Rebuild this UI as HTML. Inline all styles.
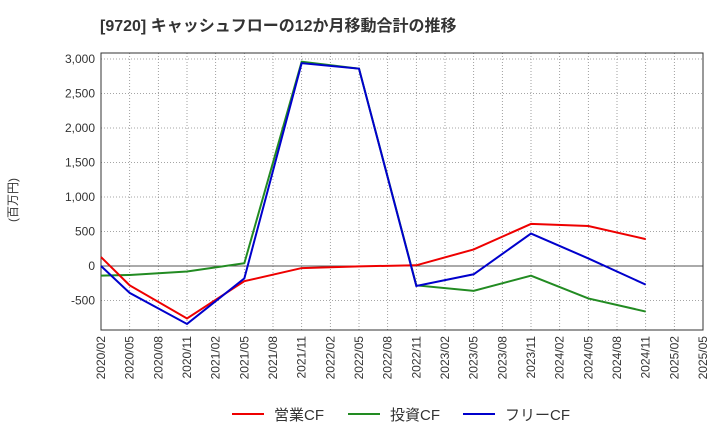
<!DOCTYPE html>
<html><head><meta charset="utf-8"><style>
body{margin:0;background:#fff;font-family:"Liberation Sans","Noto Sans CJK JP",sans-serif;}
</style></head><body>
<svg id="c" width="720" height="440" xmlns="http://www.w3.org/2000/svg">
<text x="100" y="31" font-size="16" font-weight="bold" fill="#333" font-family="Liberation Sans,Noto Sans CJK JP,sans-serif">[9720]  キャッシュフローの12か月移動合計の推移</text>
<text transform="translate(17,200) rotate(-90)" font-size="12" fill="#333" text-anchor="middle" font-family="Liberation Sans,Noto Sans CJK JP,sans-serif">(百万円)</text>
<g id="grid"></g><g id="axes"></g><g id="series"></g>
<g font-size="15" fill="#333" font-family="Liberation Sans,Noto Sans CJK JP,sans-serif">
<line x1="232" y1="414" x2="264" y2="414" stroke="#e00" stroke-width="2"/><text x="274" y="420">営業CF</text>
<line x1="348" y1="414" x2="380" y2="414" stroke="#228b22" stroke-width="2"/><text x="390" y="420">投資CF</text>
<line x1="463" y1="414" x2="495" y2="414" stroke="#00c" stroke-width="2"/><text x="505" y="420">フリーCF</text>
</g>
</svg>
<script>
const xLabels=["2020/02","2020/05","2020/08","2020/11","2021/02","2021/05","2021/08","2021/11","2022/02","2022/05","2022/08","2022/11","2023/02","2023/05","2023/08","2023/11","2024/02","2024/05","2024/08","2024/11","2025/02","2025/05"];
const yTicks=[-500,0,500,1000,1500,2000,2500,3000];
const pointIdx=[0,1,3,5,7,9,11,13,15,17,19];
const operatingCF=[130,-280,-760,-220,-30,-5,10,240,610,580,390];
const investingCF=[-140,-130,-80,40,2960,2860,-280,-360,-140,-470,-660];
const freeCF=[0,-390,-840,-180,2940,2860,-290,-120,470,110,-270];
const L=101,R=703,T=53,B=330;
const NS="http://www.w3.org/2000/svg";
const x=i=>L+i*(R-L)/(xLabels.length-1);
const y=v=>266-v*(207/3000);
function mk(t,a,p){const e=document.createElementNS(NS,t);for(const k in a)e.setAttribute(k,a[k]);document.getElementById(p).appendChild(e);return e;}
xLabels.forEach((l,i)=>{
 const g=mk('line',{x1:x(i),x2:x(i),y1:T,y2:B,stroke:'#888','stroke-dasharray':'1,2','stroke-width':0.8},'grid');
 
 
 const t=mk('text',{transform:`translate(${x(i)+4},${B+6}) rotate(-90)`,'text-anchor':'end','font-size':12,fill:'#333'},'axes');
 t.textContent=l;
 
 
});
yTicks.forEach(v=>{
 const g=mk('line',{x1:L,x2:R,y1:y(v),y2:y(v),stroke:v===0?'#555':'#888','stroke-dasharray':v===0?'':'1,2','stroke-width':v===0?1:0.8},'grid');
 
 
 const t=mk('text',{x:L-6,y:y(v)+4,'text-anchor':'end','font-size':12,fill:'#333'},'axes');
 t.textContent=v.toLocaleString('en-US');
 
 
});
const fr=mk('rect',{x:L,y:T,width:R-L,height:B-T,fill:'none',stroke:'#333','stroke-width':1},'axes');


[[investingCF,'#228b22','investing-cf-line'],[operatingCF,'#e00','operating-cf-line'],[freeCF,'#00c','free-cf-line']].forEach(([d,c,n])=>{
 const p=mk('polyline',{points:d.map((v,i)=>x(pointIdx[i])+','+y(v)).join(' '),fill:'none',stroke:c,'stroke-width':2},'series');
 
 
});
</script>
</body></html>
